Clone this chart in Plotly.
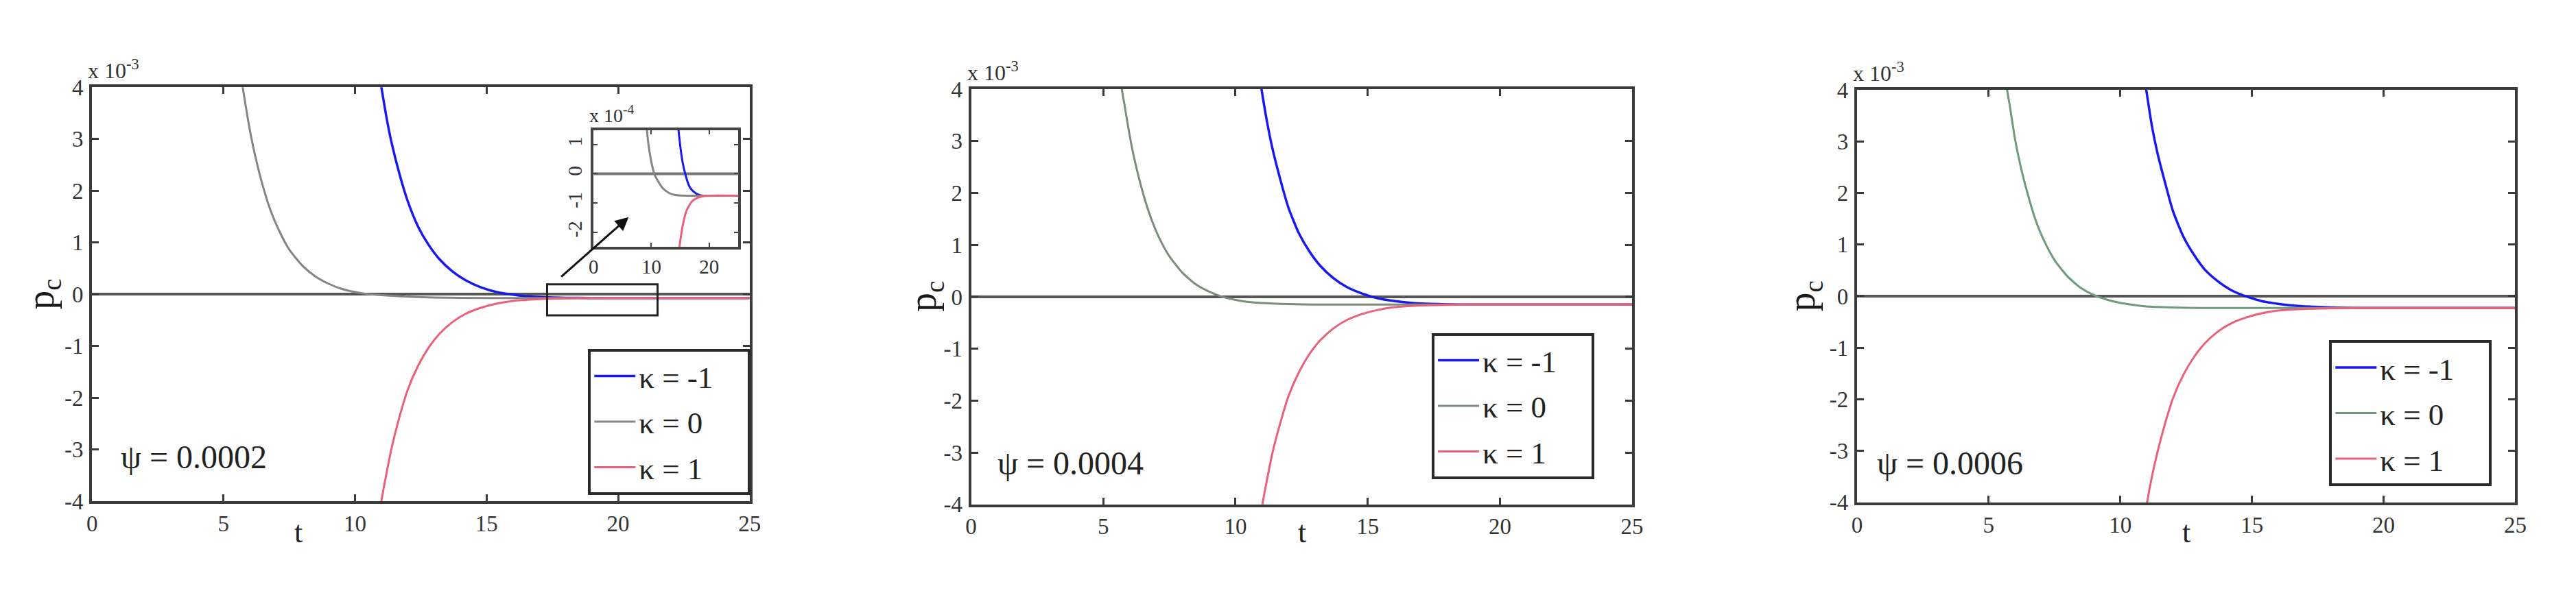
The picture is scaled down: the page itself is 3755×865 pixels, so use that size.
import plotly.graph_objects as go

# p_c values are in units of 1e-3 (axis shows "x 10^-3")
# kappa = 0 (gray) curves
t_k0 = [5.6, 5.8, 6.0, 6.2, 6.5, 6.8, 7.1, 7.5, 8.0, 8.5, 9.0, 9.5, 10, 10.5, 11, 12, 13, 14, 16, 20, 25]
pc_k0_psi2 = [4.4, 3.77, 3.17, 2.68, 2.08, 1.6, 1.24, 0.86, 0.55, 0.34, 0.2, 0.1, 0.04, 0.0, -0.02, -0.05, -0.065, -0.072, -0.075, -0.075, -0.075]
pc_k0_psi4 = [4.3, 3.7, 3.1, 2.6, 2.0, 1.52, 1.15, 0.78, 0.46, 0.24, 0.1, 0.0, -0.06, -0.1, -0.12, -0.14, -0.15, -0.15, -0.15, -0.15, -0.15]
pc_k0_psi6 = [4.3, 3.7, 3.05, 2.55, 1.95, 1.45, 1.08, 0.7, 0.38, 0.16, 0.02, -0.07, -0.13, -0.17, -0.2, -0.22, -0.23, -0.23, -0.23, -0.23, -0.23]

# kappa = -1 (blue) and kappa = 1 (red) curves
t_k1 = [10.9, 11.0, 11.2, 11.4, 11.7, 12.0, 12.4, 12.8, 13.2, 13.7, 14.2, 14.8, 15.4, 16, 16.5, 17, 18, 19, 20, 25]
pc_km1_psi2 = [4.3, 4.0, 3.4, 2.9, 2.3, 1.8, 1.3, 0.95, 0.68, 0.44, 0.27, 0.13, 0.04, -0.01, -0.04, -0.055, -0.07, -0.075, -0.075, -0.075]
pc_kp1_psi2 = [-4.4, -4.0, -3.45, -2.95, -2.35, -1.85, -1.38, -1.03, -0.77, -0.54, -0.38, -0.26, -0.18, -0.13, -0.11, -0.095, -0.082, -0.077, -0.075, -0.075]
pc_km1_psi4 = [4.3, 3.95, 3.35, 2.85, 2.25, 1.72, 1.22, 0.87, 0.6, 0.36, 0.19, 0.06, -0.03, -0.08, -0.11, -0.13, -0.145, -0.15, -0.15, -0.15]
pc_kp1_psi4 = [-4.4, -4.05, -3.5, -3.0, -2.42, -1.92, -1.45, -1.1, -0.84, -0.61, -0.45, -0.33, -0.25, -0.2, -0.18, -0.165, -0.155, -0.15, -0.15, -0.15]
pc_km1_psi6 = [4.3, 3.95, 3.3, 2.8, 2.2, 1.65, 1.15, 0.8, 0.52, 0.29, 0.12, -0.01, -0.1, -0.15, -0.18, -0.2, -0.22, -0.23, -0.23, -0.23]
pc_kp1_psi6 = [-4.4, -4.05, -3.5, -3.05, -2.47, -1.98, -1.52, -1.18, -0.92, -0.69, -0.53, -0.41, -0.33, -0.28, -0.26, -0.245, -0.235, -0.23, -0.23, -0.23]

psi_labels = ["\u03c8 = 0.0002", "\u03c8 = 0.0004", "\u03c8 = 0.0006"]
legend_names = ["\u03ba = -1", "\u03ba = 0", "\u03ba = 1"]
x_ticks = [0, 5, 10, 15, 20, 25]
y_ticks = [-4, -3, -2, -1, 0, 1, 2, 3, 4]
y_ticktext = ["-4", "-3", "-2", "-1", "0", "1", "2", "3", "4"]
inset_x_ticks = [0, 10, 20]
inset_y_ticks = [-2, -1, 0, 1]
inset_y_ticktext = ["-2", "-1", "0", "1"]

W, H = 3755, 865
FONT = "Liberation Serif"
AX = "#3a3a3a"
BLUE = "#1818f0"
RED = "#ea6078"
GRAYS = ["#858585", "#7d8d7d", "#6f9a7c"]
PAD = "\u00a0" * 4  # widens the legend box like the reference


def px(x):
    return x / W


def py(y):
    return 1 - y / H


# panel boxes in pixels (left, right, top, bottom)
boxes = [(127, 1092, 115, 745), (1417, 2387, 118, 750), (2717, 3683, 119, 747)]
inset_box = (863, 1075, 180, 358)

panels = [
    (pc_km1_psi2, pc_k0_psi2, pc_kp1_psi2),
    (pc_km1_psi4, pc_k0_psi4, pc_kp1_psi4),
    (pc_km1_psi6, pc_k0_psi6, pc_kp1_psi6),
]

fig = go.Figure()
layout = {}
annotations = []
shapes = []

legend_pos = [(855, 513), (2093, 489), (3410, 500)]

for i, (blue, gray, red) in enumerate(panels):
    n = "" if i == 0 else str(i + 1)
    xa, ya = "x" + n, "y" + n
    leg = "legend" if i == 0 else "legend" + str(i + 1)
    # zero line
    fig.add_trace(go.Scatter(x=[0, 25], y=[0, 0], mode="lines", xaxis=xa, yaxis=ya,
                             line=dict(color="#555555", width=4), showlegend=False, hoverinfo="skip"))
    fig.add_trace(go.Scatter(x=t_k1, y=blue, mode="lines", name=legend_names[0] + PAD, xaxis=xa, yaxis=ya,
                             line=dict(color=BLUE, width=3.5, shape="spline", smoothing=0.6),
                             legend=leg, legendgroup=f"a{i}"))
    fig.add_trace(go.Scatter(x=t_k0, y=gray, mode="lines", name=legend_names[1] + PAD, xaxis=xa, yaxis=ya,
                             line=dict(color=GRAYS[i], width=3, shape="spline", smoothing=0.6),
                             legend=leg, legendgroup=f"b{i}"))
    fig.add_trace(go.Scatter(x=t_k1, y=red, mode="lines", name=legend_names[2] + PAD, xaxis=xa, yaxis=ya,
                             line=dict(color=RED, width=3, shape="spline", smoothing=0.6),
                             legend=leg, legendgroup=f"c{i}"))

    l, r, t, b = boxes[i]
    common = dict(showline=True, linewidth=4, linecolor=AX, mirror="ticks", ticks="inside",
                  ticklen=10, tickwidth=3, tickcolor=AX, showgrid=False, zeroline=False,
                  tickfont=dict(family=FONT, size=33, color="#333333"))
    layout["xaxis" + n] = dict(domain=[px(l), px(r)], range=[0, 25], tickvals=x_ticks,
                               anchor=ya, **common)
    layout["yaxis" + n] = dict(domain=[py(b), py(t)], range=[-4, 4], tickvals=y_ticks,
                               ticktext=y_ticktext, anchor=xa, ticklabelstandoff=2, **common)

    lx, ly = legend_pos[i]
    layout[leg] = dict(x=px(lx), y=py(ly), xanchor="left", yanchor="top", bgcolor="white",
                       bordercolor="#2a2a2a", borderwidth=4, tracegroupgap=5, itemwidth=60,
                       font=dict(family=FONT, size=45, color="#222222"))

    # x 10^-3 multiplier
    annotations.append(dict(text="x 10<sup>-3</sup>", xref="paper", yref="paper", x=px(l - 8), y=py(t - 4),
                            xanchor="left", yanchor="bottom", showarrow=False,
                            font=dict(family=FONT, size=32, color="#333333")))
    # psi label
    psi_x = [167, 1454, 2744][i]
    psi_y = [678, 687, 687][i]
    annotations.append(dict(text=psi_labels[i], xref="paper", yref="paper", x=px(psi_x), y=py(psi_y),
                            xanchor="left", yanchor="middle", showarrow=False,
                            font=dict(family=FONT, size=48, color="#222222")))
    # axis titles
    pc_x = [55, 1350, 2640][i]
    annotations.append(dict(text="p<sub>c</sub>", xref="paper", yref="paper", x=px(pc_x), y=py((t + b) / 2),
                            xanchor="center", yanchor="middle", textangle=-90, showarrow=False,
                            font=dict(family=FONT, size=56, color="#1a1a1a")))
    t_x = [430, 1903, 3200][i]
    annotations.append(dict(text="t", xref="paper", yref="paper", x=px(t_x), y=py(792),
                            xanchor="center", yanchor="middle", showarrow=False,
                            font=dict(family=FONT, size=44, color="#222222")))

# inset of panel 1 (values x10 -> units of 1e-4)
fig.add_trace(go.Scatter(x=[0, 25], y=[0, 0], mode="lines", xaxis="x4", yaxis="y4",
                         line=dict(color="#777777", width=4), showlegend=False, hoverinfo="skip"))
fig.add_trace(go.Scatter(x=t_k1, y=[v * 10 for v in pc_km1_psi2], mode="lines", xaxis="x4", yaxis="y4",
                         line=dict(color=BLUE, width=3, shape="spline", smoothing=0.6), showlegend=False))
fig.add_trace(go.Scatter(x=t_k0, y=[v * 10 for v in pc_k0_psi2], mode="lines", xaxis="x4", yaxis="y4",
                         line=dict(color=GRAYS[0], width=3, shape="spline", smoothing=0.6), showlegend=False))
fig.add_trace(go.Scatter(x=t_k1, y=[v * 10 for v in pc_kp1_psi2], mode="lines", xaxis="x4", yaxis="y4",
                         line=dict(color=RED, width=3, shape="spline", smoothing=0.6), showlegend=False))
il, ir, it, ib = inset_box
inset_common = dict(showline=True, linewidth=4, linecolor="#444444", mirror="ticks", ticks="inside",
                    ticklen=6, tickwidth=2, tickcolor="#444444", showgrid=False, zeroline=False,
                    tickfont=dict(family=FONT, size=29, color="#333333"))
layout["xaxis4"] = dict(domain=[px(il), px(ir)], range=[0, 25], tickvals=inset_x_ticks, anchor="y4", **inset_common)
layout["yaxis4"] = dict(domain=[py(ib), py(it)], range=[-2.5, 1.5], tickvals=inset_y_ticks,
                        ticktext=inset_y_ticktext, anchor="x4",
                        tickangle=-90, ticklabelstandoff=2, **inset_common)
annotations.append(dict(text="x 10<sup>-4</sup>", xref="paper", yref="paper", x=px(855), y=py(it - 4),
                        xanchor="left", yanchor="bottom", showarrow=False,
                        font=dict(family=FONT, size=28, color="#333333")))

# zoom box and arrow in panel 1
shapes.append(dict(type="rect", xref="x", yref="y", x0=17.3, x1=21.5, y0=-0.41, y1=0.19,
                   line=dict(color="#222222", width=3)))
annotations.append(dict(x=20.4, y=1.49, ax=17.8, ay=0.32, xref="x", yref="y", axref="x", ayref="y",
                        text="", showarrow=True, arrowhead=2, arrowsize=1.3, arrowwidth=3, arrowcolor="#111111"))

fig.update_layout(**layout)
fig.update_layout(width=W, height=H, margin=dict(l=0, r=0, t=0, b=0),
                  paper_bgcolor="white", plot_bgcolor="white",
                  annotations=annotations, shapes=shapes,
                  font=dict(family=FONT))

fig.write_html("out.html", config={"displayModeBar": False},
               post_script="document.body.style.margin='0';")
